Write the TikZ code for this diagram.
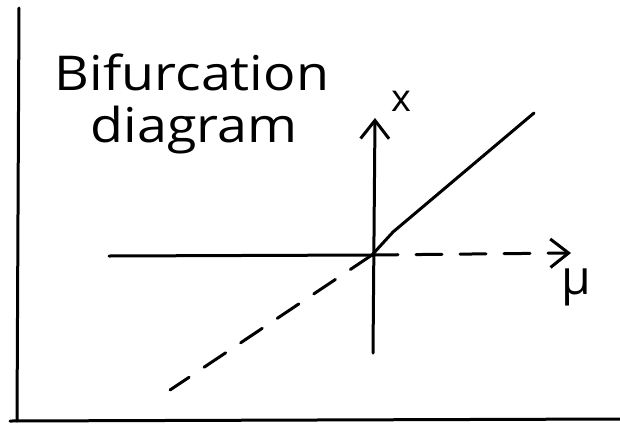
\documentclass[tikz,border=0pt]{standalone}
\usepackage{fontspec}
\setmainfont{Open Sans}
\usetikzlibrary{arrows.meta,positioning}

\begin{document}
\begin{tikzpicture}[
    x=0.5pt,y=-0.5pt,
    font=\fontsize{24}{28}\selectfont,
    >={Straight Barb[length=3.2mm,width=5mm]},
    pen/.style={line width=1.5pt,line cap=round,line join=round},
    axis/.style={pen,->},
    unstable/.style={pen,dash pattern=on 13pt off 9pt},
    lbl/.style={inner sep=0pt},
    title/.style={lbl,anchor=base,xscale=1.12},
]
\useasboundingbox (0,0) rectangle (620,423);

% ---- frame ----
\coordinate (ftop)    at (19,8);
\coordinate (fbot)    at (17,421);
\coordinate (bleft)   at (10,421);
\coordinate (bright)  at (620,419);
\draw[pen] (ftop) -- (fbot);
\draw[pen] (bleft) -- (bright);

% ---- title ----
\node[title] (title)  at (192,90)  {Bifurcation};
\node[title] (title2) at (194,142) {diagram};

% ---- axes ----
\coordinate (o)      at (372,255);
\coordinate (xtop)   at (375,118);
\coordinate (xbot)   at (373,353);
\coordinate (mleft)  at (109,256);
\coordinate (mright) at (571,253);

\draw[axis] (xbot) -- (xtop);
\draw[pen] (mleft) -- (o);
\draw[unstable,->] (o) -- (mright);

\node[lbl,font=\fontsize{19}{22}\selectfont] (xlbl) at (401,101) {x};
\node[lbl] (mulbl) at (576,287) {μ};

% ---- branches ----
\coordinate (bend)    at (393,232);
\coordinate (stabend) at (534,113);
\coordinate (unstend) at (170,390);
\draw[pen] (o) -- (bend) -- (stabend);
\draw[unstable] (o) -- (unstend);

\end{tikzpicture}
\end{document}
